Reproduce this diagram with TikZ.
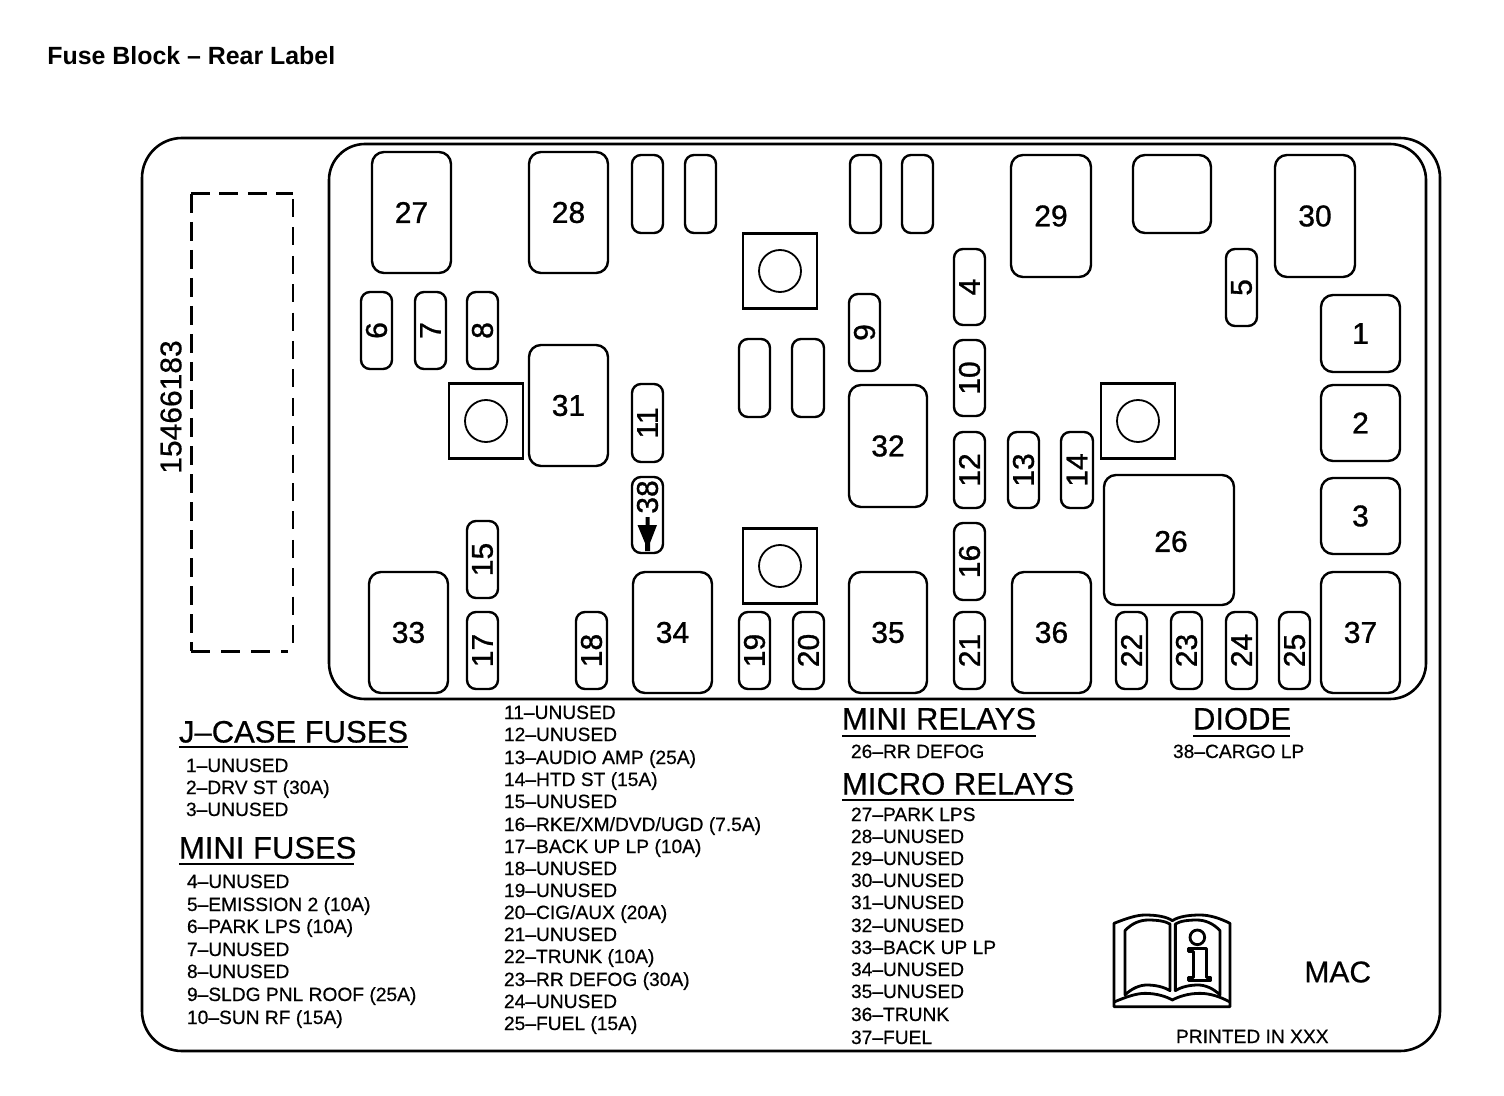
\documentclass[tikz,border=0pt]{standalone}
\usepackage{fontspec}
\setmainfont{Liberation Sans}
\newfontfamily\heavy[FakeBold=0.5]{Liberation Sans}
\newfontfamily\heavier[FakeBold=1]{Liberation Sans}
\tikzset{
  fuse/.style={draw=black,line width=1.2pt,inner sep=0pt,outer sep=0pt,align=center,font=\fontsize{15}{15}\selectfont\heavier},
  legend/.style={anchor=west,inner sep=0pt,outer sep=0pt,text height=6pt,text depth=0pt,font=\fontsize{9.6}{9.6}\selectfont\heavy},
  header/.style={anchor=west,inner sep=0pt,outer sep=0pt,text height=10.5pt,text depth=0pt,font=\fontsize{15.5}{15.5}\selectfont\heavy},
  rule/.style={line width=1pt},
  frame/.style={line width=1.3pt},
  bookline/.style={line width=1.4pt,line join=round}
}
\newcommand\fuse[7]{%
  \pgfmathsetmacro\fw{(#4-#2)*0.5}\pgfmathsetmacro\fh{(#5-#3)*0.5}%
  \pgfmathsetmacro\fcx{(#2+#4)/2}\pgfmathsetmacro\fcy{(#3+#5)/2}%
  \node[fuse,rounded corners=#1pt,minimum width=\fw pt,minimum height=\fh pt] (f#6) at (\fcx,\fcy) {\raisebox{-0.5pt}{#7}};}
\newcommand\num[6]{\fuse{4.5}{#1}{#2}{#3}{#4}{#5}{\rotatebox{90}{#6}}}
\newcommand\mount[3]{%
  \node[draw=black,line width=1.4pt,inner sep=0pt,outer sep=0pt,minimum width=37pt,minimum height=37.5pt] (m#1) at (#2,#3) {};
  \node[draw=black,line width=0.9pt,circle,inner sep=0pt,minimum size=21pt] (c#1) at (#2,#3) {};}
\newcommand\leg[4]{\node[legend] (l#1) at (#2,#3) {#4};}
\begin{document}
\begin{tikzpicture}[x=0.5pt,y=-0.5pt]
\useasboundingbox (0,0) rectangle (1504,1096);
\node[anchor=west,inner sep=0pt,font=\fontsize{12.45}{12.45}\selectfont\bfseries] (title) at (47,56) {Fuse Block – Rear Label};
% frames
\draw[frame,rounded corners=20pt] (142,138) rectangle (1440,1051);
\draw[frame,rounded corners=18pt] (329,144) rectangle (1426,699);
% dashed area
\draw[line width=1.5pt,dash pattern=on 9.5pt off 4.7pt] (191,194) -- (293,194);
\draw[line width=1.5pt,dash pattern=on 9.5pt off 4.5pt] (191,194) -- (191,651);
\draw[line width=1.5pt,dash pattern=on 9.5pt off 5.5pt] (191,651) -- (288,651);
\draw[line width=.9pt,dash pattern=on 9pt off 5.2pt] (293,199) -- (293,647);
\node[rotate=90,inner sep=0pt,font=\fontsize{15}{15}\selectfont\heavy] (partno) at (171,407) {15466183};
% big fuses
\fuse{6}{372}{152}{451}{273}{27}{27}
\fuse{6}{529}{152}{608}{273}{28}{28}
\fuse{6}{1011}{155}{1091}{277}{29}{29}
\fuse{6}{1275}{155}{1355}{277}{30}{30}
\fuse{6}{1321}{295}{1400}{372}{1}{1}
\fuse{6}{1321}{385}{1400}{461}{2}{2}
\fuse{6}{1321}{478}{1400}{554}{3}{3}
\fuse{6}{529}{345}{608}{466}{31}{31}
\fuse{6}{849}{385}{927}{507}{32}{32}
\fuse{6}{1104}{475}{1234}{605}{26}{\hspace*{2pt}\rule{0pt}{12pt}26}
\fuse{6}{369}{572}{448}{693}{33}{33}
\fuse{6}{633}{572}{712}{693}{34}{34}
\fuse{6}{849}{572}{927}{693}{35}{35}
\fuse{6}{1012}{572}{1091}{693}{36}{36}
\fuse{6}{1321}{572}{1400}{693}{37}{37}
% blank slots
\fuse{4.5}{632}{155}{663}{233}{a}{}
\fuse{4.5}{685}{155}{716}{233}{b}{}
\fuse{4.5}{850}{155}{881}{233}{c}{}
\fuse{4.5}{902}{155}{933}{233}{d}{}
\fuse{6}{1133}{155}{1211}{233}{e}{}
\fuse{4.5}{739}{339}{770}{417}{g}{}
\fuse{4.5}{792}{339}{824}{417}{h}{}
% narrow fuses
\num{954}{249}{985}{325}{4}{4}
\num{1226}{249}{1257}{326}{5}{5}
\num{361}{292}{392}{369}{6}{6}
\num{415}{292}{446}{369}{7}{7}
\num{467}{292}{498}{369}{8}{8}
\num{849}{294}{880}{371}{9}{9}
\num{954}{340}{985}{416}{10}{10}
\num{632}{384}{663}{462}{11}{11}
\num{954}{432}{985}{508}{12}{12}
\num{1008}{432}{1039}{508}{13}{13}
\num{1061}{432}{1093}{508}{14}{14}
\num{467}{521}{498}{598}{15}{15}
\num{954}{523}{985}{600}{16}{16}
\num{467}{612}{498}{689}{17}{17}
\num{576}{612}{607}{689}{18}{18}
\num{739}{612}{770}{689}{19}{19}
\num{793}{612}{824}{689}{20}{20}
\num{954}{612}{985}{689}{21}{21}
\num{1116}{612}{1147}{689}{22}{22}
\num{1171}{612}{1202}{689}{23}{23}
\num{1226}{612}{1257}{689}{24}{24}
\num{1279}{612}{1310}{689}{25}{25}
% diode 38
\fuse{4.5}{632}{477}{663}{553}{38}{}
\node[rotate=90,inner sep=0pt,font=\fontsize{15}{15}\selectfont\heavier] (n38) at (647.5,497) {38};
\fill (645.5,517) -- (649.5,517) -- (649.5,525) -- (657,525) -- (650,543) -- (650,551) -- (645,551) -- (645,543) -- (637.5,525) -- (645.5,525) -- cycle;
% mounts
\mount{1}{780}{271}
\mount{2}{486}{421}
\mount{3}{780}{566}
\mount{4}{1138}{421}
% headers
\node[header] (hj) at (179,732) {J–CASE FUSES};
\draw[rule] (179,747) -- (408,747);
\node[header] (hm) at (179,848) {MINI FUSES};
\draw[rule] (179,864) -- (354,864);
\node[header] (hr) at (842,719) {MINI RELAYS};
\draw[rule] (842,736) -- (1036,736);
\node[header] (hd) at (1193,719) {DIODE};
\draw[rule] (1193,736) -- (1290,736);
\node[header] (hc) at (842,784) {MICRO RELAYS};
\draw[rule] (842,800) -- (1074,800);
% legend
\leg{1}{186}{766}{1–UNUSED}
\leg{2}{186}{788}{2–DRV ST (30A)}
\leg{3}{186}{810}{3–UNUSED}
\leg{4}{187}{882}{4–UNUSED}
\leg{5}{187}{905}{5–EMISSION 2 (10A)}
\leg{6}{187}{927}{6–PARK LPS (10A)}
\leg{7}{187}{950}{7–UNUSED}
\leg{8}{187}{972}{8–UNUSED}
\leg{9}{187}{995}{9–SLDG PNL ROOF (25A)}
\leg{10}{187}{1018}{10–SUN RF (15A)}
\leg{11}{504}{713}{11–UNUSED}
\leg{12}{504}{735}{12–UNUSED}
\leg{13}{504}{758}{13–AUDIO AMP (25A)}
\leg{14}{504}{780}{14–HTD ST (15A)}
\leg{15}{504}{802}{15–UNUSED}
\leg{16}{504}{825}{16–RKE/XM/DVD/UGD (7.5A)}
\leg{17}{504}{847}{17–BACK UP LP (10A)}
\leg{18}{504}{869}{18–UNUSED}
\leg{19}{504}{891}{19–UNUSED}
\leg{20}{504}{913}{20–CIG/AUX (20A)}
\leg{21}{504}{935}{21–UNUSED}
\leg{22}{504}{957}{22–TRUNK (10A)}
\leg{23}{504}{980}{23–RR DEFOG (30A)}
\leg{24}{504}{1002}{24–UNUSED}
\leg{25}{504}{1024}{25–FUEL (15A)}
\leg{26}{851}{752}{26–RR DEFOG}
\leg{38}{1173}{752}{38–CARGO LP}
\leg{27}{851}{815}{27–PARK LPS}
\leg{28}{851}{837}{28–UNUSED}
\leg{29}{851}{859}{29–UNUSED}
\leg{30}{851}{881}{30–UNUSED}
\leg{31}{851}{903}{31–UNUSED}
\leg{32}{851}{926}{32–UNUSED}
\leg{33}{851}{948}{33–BACK UP LP}
\leg{34}{851}{970}{34–UNUSED}
\leg{35}{851}{992}{35–UNUSED}
\leg{36}{851}{1015}{36–TRUNK}
\leg{37}{851}{1038}{37–FUEL}
\leg{print}{1176}{1037}{PRINTED IN XXX}
\node[anchor=west,inner sep=0pt,font=\fontsize{15}{15}\selectfont\heavy] (mac) at (1304,972) {MAC};
% book
\begin{scope}[shift={(1090,900)},x=0.16667pt,y=-0.16667pt]
\draw[bookline] (72,320) -- (72,70) .. controls (110,55) and (140,45) .. (165,45) .. controls (200,45) and (230,50) .. (247,62) .. controls (265,50) and (295,45) .. (330,45) .. controls (360,45) and (390,55) .. (420,70) -- (420,320) -- cycle;
\draw[bookline] (72,306) .. controls (110,290) and (140,280) .. (165,280) .. controls (200,280) and (230,290) .. (247,300) .. controls (265,290) and (295,280) .. (330,280) .. controls (360,280) and (390,290) .. (420,306);
\draw[bookline] (105,92) .. controls (125,70) and (150,60) .. (175,60) .. controls (200,60) and (225,63) .. (240,72) -- (240,272) .. controls (220,260) and (195,255) .. (170,255) .. controls (150,255) and (125,265) .. (105,285) -- cycle;
\draw[bookline] (256,72) .. controls (270,63) and (295,60) .. (320,60) .. controls (345,60) and (370,70) .. (390,92) -- (390,285) .. controls (370,265) and (345,255) .. (325,255) .. controls (300,255) and (275,260) .. (256,272) -- cycle;
\draw[bookline] (322,112) circle (22);
\draw[bookline] (295,145) -- (350,145) -- (350,232) -- (363,232) -- (363,241) -- (295,241) -- (295,232) -- (310,232) -- (310,155) -- (295,155) -- cycle;
\end{scope}
\end{tikzpicture}
\end{document}
